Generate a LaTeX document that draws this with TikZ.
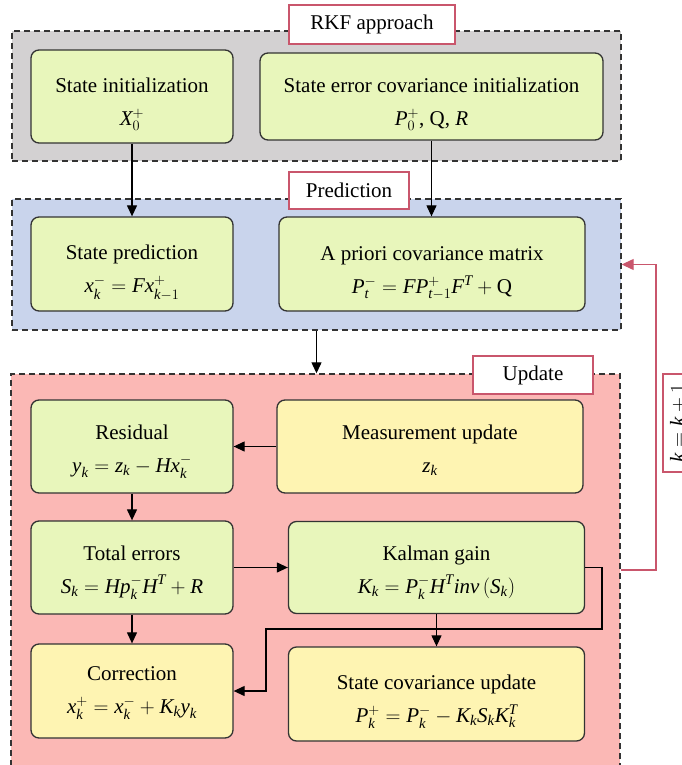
\documentclass[tikz,border=0pt]{standalone}
\usepackage{amsmath}
\usepackage{fontspec}
\setmainfont{Liberation Serif}
\usetikzlibrary{arrows.meta,calc}
\newcommand\V[1]{\textit{#1}}
\newcommand\Sh[1]{\rule{0pt}{#1pt}}
\definecolor{grayfill}{HTML}{D3D1D2}
\definecolor{bluefill}{HTML}{C9D4EC}
\definecolor{pinkfill}{HTML}{FBB8B5}
\definecolor{greenbox}{HTML}{E8F6BB}
\definecolor{yellowbox}{HTML}{FEF4B2}
\definecolor{redline}{HTML}{C9566C}
\definecolor{boxline}{HTML}{333333}
\tikzset{
  group/.style={draw=boxline, dashed, dash pattern=on 6pt off 4pt, line width=1.4pt, inner sep=0pt},
  tag/.style={draw=redline, fill=white, line width=1.4pt, inner sep=0pt, font=\fontsize{21}{25}\selectfont},
  box/.style={draw=boxline, rounded corners=8pt, line width=1.3pt, inner sep=0pt, align=center,
    font=\fontsize{21}{33}\selectfont},
  gbox/.style={box, fill=greenbox},
  ybox/.style={box, fill=yellowbox},
  arr/.style={line width=1.2pt, -{Triangle[length=11pt,width=10pt]}},
  redarr/.style={draw=redline, line width=1.3pt, -{Triangle[length=12pt,width=11pt]}},
}
\begin{document}
\begin{tikzpicture}[x=1pt,y=-1pt]
\useasboundingbox (0,0) rectangle (682,765);
% groups
\node[group, fill=grayfill, minimum width=609, minimum height=130] (gray) at (316.5,96) {};
\node[group, fill=bluefill, minimum width=609, minimum height=131] (blue) at (316.5,264.5) {};
\node[group, fill=pinkfill, minimum width=609, minimum height=396] (pink) at (315.5,572) {};
% group labels
\node[tag, minimum width=166, minimum height=39] (rkf) at (372,24.5) {RKF approach};
\node[tag, minimum width=120, minimum height=37] (predlab) at (349,190.5) {Prediction};
\node[tag, minimum width=120, minimum height=38] (updlab) at (533,375) {Update};
% boxes
\node[gbox, minimum width=202, minimum height=93] (init) at (132,96.5)
  {\Sh{30.5}State initialization\\ $\V{X}^{+}_{0}$};
\node[gbox, minimum width=343, minimum height=87] (covinit) at (431.5,96.5)
  {\Sh{30.5}State error covariance initialization\\ $\V{P}^{+}_{0}$, Q, \V{R}};
\node[gbox, minimum width=202, minimum height=94] (statepred) at (132,264)
  {\Sh{32.5}State prediction\\ $\V{x}^{-}_{\V{k}} = \V{F}\V{x}^{+}_{\V{k}-1}$};
\node[gbox, minimum width=306, minimum height=94] (apriori) at (432,264)
  {\Sh{32.5}A priori covariance matrix\\ $\V{P}^{-}_{\V{t}} = \V{F}\V{P}^{+}_{\V{t}-1}\V{F}^{\V{T}} + \textrm{Q}$};
\node[gbox, minimum width=202, minimum height=93] (residual) at (132,446.5)
  {\Sh{24.5}Residual\\ $\V{y}_{\V{k}} = \V{z}_{\V{k}} - \V{H}\V{x}^{-}_{\V{k}}$};
\node[ybox, minimum width=306, minimum height=93] (meas) at (430,446.5)
  {\Sh{22.5}Measurement update\\ $\V{z}_{\V{k}}$};
\node[gbox, minimum width=202, minimum height=93] (total) at (132,567.5)
  {\Sh{24.5}Total errors\\ $\V{S}_{\V{k}} = \V{H}\V{p}^{-}_{\V{k}}\V{H}^{\V{T}} + \V{R}$};
\node[gbox, minimum width=296, minimum height=92] (kalman) at (436.5,567.5)
  {\Sh{24.5}Kalman gain\\ $\V{K}_{\V{k}} = \V{P}^{-}_{\V{k}}\V{H}^{\V{T}}\V{inv}\,(\V{S}_{\V{k}})$};
\node[ybox, minimum width=202, minimum height=94] (correction) at (132,691)
  {\Sh{18.5}Correction\\ $\V{x}^{+}_{\V{k}} = \V{x}^{-}_{\V{k}} + \V{K}_{\V{k}}\V{y}_{\V{k}}$};
\node[ybox, minimum width=296, minimum height=94] (scu) at (436.5,694)
  {\Sh{30.5}State covariance update\\ $\V{P}^{+}_{\V{k}} = \V{P}^{-}_{\V{k}} - \V{K}_{\V{k}}\V{S}_{\V{k}}\V{K}^{\V{T}}_{\V{k}}$};
% feedback label
\node[tag, rotate=90, minimum width=98, minimum height=30] (kk) at (678,423) {$\V{k} = \V{k} + 1$};
% connectors
\draw[arr] (init.south) -- (init.south |- statepred.north);
\draw[arr] (covinit.south) -- (covinit.south |- apriori.north);
\draw[arr] (blue.south) -- (blue.south |- pink.north);
\draw[arr] (meas.west) -- (residual.east |- meas.west);
\draw[arr] (residual.south) -- (total.north);
\draw[arr] (total.east) -- (kalman.west |- total.east);
\draw[arr] (total.south) -- (correction.north);
\draw[arr] (kalman.south) -- (kalman.south |- scu.north);
\coordinate (k1) at (602,629);
\coordinate (k2) at (266,629);
\draw[arr] (kalman.east) -| (k1) -- (k2) |- (correction.east);
\coordinate (f1) at (656,570);
\draw[redarr] (pink.east |- f1) -- (f1) |- (blue.east);
\end{tikzpicture}
\end{document}
